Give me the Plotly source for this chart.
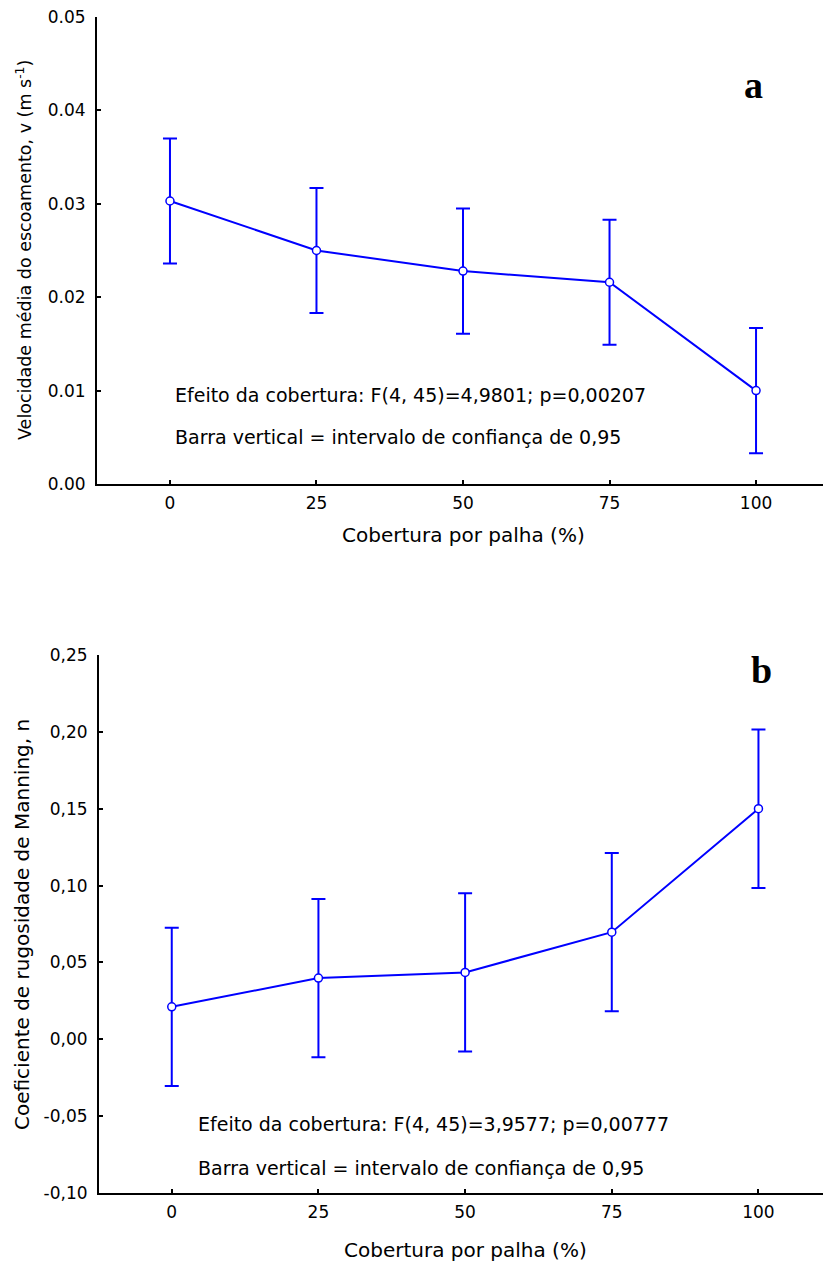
import plotly.graph_objects as go

# ---------------- data ----------------
categories = ["0", "25", "50", "75", "100"]

velocity_mean = [0.0303, 0.0250, 0.0228, 0.0216, 0.0100]
velocity_ci = [0.0067, 0.0067, 0.0067, 0.0067, 0.0067]

manning_mean = [0.0211, 0.0398, 0.0435, 0.0697, 0.1500]
manning_ci = [0.0515, 0.0515, 0.0515, 0.0515, 0.0515]

top_tickvals = [0.00, 0.01, 0.02, 0.03, 0.04, 0.05]
top_ticktext = ["0.00", "0.01", "0.02", "0.03", "0.04", "0.05"]

bottom_tickvals = [-0.10, -0.05, 0.00, 0.05, 0.10, 0.15, 0.20, 0.25]
bottom_ticktext = ["-0,10", "-0,05", "0,00", "0,05", "0,10", "0,15", "0,20", "0,25"]

x_title = "Cobertura por palha (%)"
top_y_title = "Velocidade média do escoamento, v (m s<sup>-1</sup>)"
bottom_y_title = "Coeficiente de rugosidade de Manning, n"
top_note1 = "Efeito da cobertura: F(4, 45)=4,9801; p=0,00207"
top_note2 = "Barra vertical = intervalo de confiança de 0,95"
bottom_note1 = "Efeito da cobertura: F(4, 45)=3,9577; p=0,00777"
bottom_note2 = "Barra vertical = intervalo de confiança de 0,95"

# ---------------- layout helpers ----------------
W, H = 823, 1268
FONT = "DejaVu Sans"
BLUE = "#0000FF"


def px(x):
    return x / W


def py(y):
    return 1 - y / H


fig = go.Figure()

for mean, ci, xa, ya in [
    (velocity_mean, velocity_ci, "x", "y"),
    (manning_mean, manning_ci, "x2", "y2"),
]:
    fig.add_trace(
        go.Scatter(
            x=categories,
            y=mean,
            mode="lines+markers",
            line=dict(color=BLUE, width=2),
            marker=dict(symbol="circle", size=8, color="white",
                        line=dict(color=BLUE, width=1.5)),
            error_y=dict(type="data", array=ci, visible=True,
                         color=BLUE, thickness=2, width=7),
            xaxis=xa,
            yaxis=ya,
            showlegend=False,
            hoverinfo="skip",
        )
    )

axis_common = dict(
    showline=True,
    linecolor="black",
    linewidth=2,
    ticks="inside",
    ticklen=4,
    tickwidth=1.5,
    tickcolor="black",
    showgrid=False,
    zeroline=False,
    automargin=False,
    tickfont=dict(family=FONT, size=17, color="black"),
)

fig.update_layout(
    width=W,
    height=H,
    margin=dict(l=0, r=0, t=0, b=0, pad=0),
    plot_bgcolor="white",
    paper_bgcolor="white",
    xaxis=dict(axis_common, domain=[px(97), 1], anchor="y", type="category",
               range=[-0.498, 4.457], ticklabelstandoff=3),
    yaxis=dict(axis_common, domain=[py(484), py(17)], anchor="x",
               range=[0, 0.05], tickvals=top_tickvals, ticktext=top_ticktext,
               ticklabelstandoff=6),
    xaxis2=dict(axis_common, domain=[px(99), 1], anchor="y2", type="category",
                range=[-0.496, 4.44], ticklabelstandoff=3),
    yaxis2=dict(axis_common, domain=[py(1193), py(655)], anchor="x2",
                range=[-0.10, 0.25], tickvals=bottom_tickvals,
                ticktext=bottom_ticktext, ticklabelstandoff=6),
)

ann = []


def add_text(text, x, y, size, xanchor="center", family=FONT, angle=0, bold=False):
    if bold:
        text = "<b>" + text + "</b>"
    ann.append(dict(text=text, x=px(x), y=py(y), xref="paper", yref="paper",
                    xanchor=xanchor, yanchor="middle", showarrow=False,
                    textangle=angle,
                    font=dict(family=family, size=size, color="black")))


add_text(x_title, 463, 535, 20)
add_text(x_title, 465, 1250, 20)
add_text(top_y_title, 24, 250, 17.5, angle=-90)
add_text(bottom_y_title, 22, 925, 20, angle=-90)
add_text(top_note1, 173, 395, 19, xanchor="left")
add_text(top_note2, 173, 437, 19, xanchor="left")
add_text(bottom_note1, 196, 1124, 19, xanchor="left")
add_text(bottom_note2, 196, 1168, 19, xanchor="left")
add_text("a", 753, 85, 38, family="Liberation Serif", bold=True)
add_text("b", 761, 670, 38, family="Liberation Serif", bold=True)

fig.update_layout(annotations=ann)

fig.write_html("out.html", config={"displayModeBar": False},
               post_script="document.body.style.margin='0';")
